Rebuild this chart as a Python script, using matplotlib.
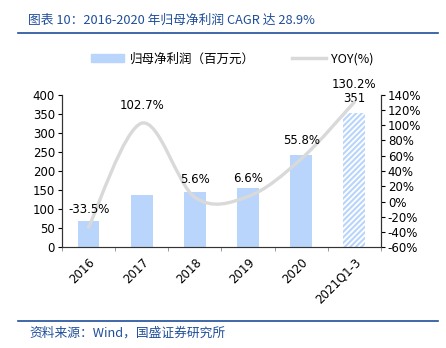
import numpy as np
import matplotlib.pyplot as plt
from matplotlib.path import Path
from matplotlib.patches import PathPatch, Patch
from matplotlib.lines import Line2D

plt.rcParams['font.family'] = ['DejaVu Sans', 'Noto Sans CJK SC']
plt.rcParams['hatch.linewidth'] = 1.3

# data
categories = ["2016", "2017", "2018", "2019", "2020", "2021Q1-3"]
profit = [68, 138, 146, 156, 243, 351]
yoy = [-33.5, 102.7, 5.6, 6.6, 55.8, 130.2]

BLUE = "#b9d5fb"
GRAY = "#d9d9d9"
TITLE_BLUE = "#1f4e9a"
CJK = ["Noto Sans CJK SC", "DejaVu Sans"]

fig = plt.figure(figsize=(4.46, 3.48), dpi=100)
ax = fig.add_axes([0.139, 0.289, 0.715, 0.439])
ax2 = ax.twinx()

x = np.arange(len(categories))
ax.bar(x[:-1], profit[:-1], width=0.41, color=BLUE, linewidth=0, zorder=2)
ax.bar(x[-1], profit[-1], width=0.41, color=BLUE, edgecolor="white",
       hatch="//////", linewidth=0, zorder=2)

# smooth YOY line (Bezier through the points, like Excel's smoothed line)
pts = np.column_stack([x, yoy]).astype(float)
ext = np.vstack([pts[0], pts, pts[-1]])
verts = [tuple(pts[0])]
codes = [Path.MOVETO]
for i in range(len(pts) - 1):
    p0, p1, p2, p3 = ext[i], ext[i + 1], ext[i + 2], ext[i + 3]
    c1 = p1 + (p2 - p0) / 6
    c2 = p2 - (p3 - p1) / 6
    verts += [tuple(c1), tuple(c2), tuple(p2)]
    codes += [Path.CURVE4] * 3
ax2.add_patch(PathPatch(Path(verts, codes), facecolor="none", edgecolor=GRAY,
                        linewidth=2.4, capstyle="round", zorder=3))

for xi, v in zip(x, yoy):
    ax2.annotate(f"{v}%", (xi, v), xytext=(0, 13), textcoords="offset points",
                 ha="center", va="center", fontsize=8.5)
ax.annotate(f"{profit[-1]}", (x[-1], profit[-1]), xytext=(0, 11),
            textcoords="offset points", ha="center", va="center", fontsize=8.5)

ax.set_xlim(-0.5, 5.5)
ax.set_ylim(0, 400)
ax.set_yticks(range(0, 401, 50))
ax2.set_ylim(-60, 140)
ax2.set_yticks(range(-60, 141, 20))
ax2.set_yticklabels([f"{t}%" for t in range(-60, 141, 20)])

ax.set_xticks(x)
ax.set_xticklabels(categories, rotation=45, ha="right", rotation_mode="anchor")
ax.set_xticks(np.arange(-0.5, 6, 1), minor=True)
ax.tick_params(axis="x", which="major", length=0, labelsize=8.5, pad=6)
ax.tick_params(axis="x", which="minor", length=3, color="#888888")
ax.tick_params(axis="y", length=3, labelsize=8.5, pad=2)
ax2.tick_params(axis="y", length=3, labelsize=8.5, pad=2)

for a in (ax, ax2):
    a.spines["top"].set_visible(False)
    for s in ("left", "right", "bottom"):
        a.spines[s].set_color("#333333")
ax.spines["bottom"].set_color("#888888")

# legend
handles = [Patch(color=BLUE), Line2D([], [], color=GRAY, linewidth=2.5)]
labels = ["归母净利润（百万元）", "YOY(%)"]
fig.legend(handles, labels, loc="center", bbox_to_anchor=(0.52, 1 - 59 / 348),
           ncol=2, frameon=False, handlelength=2.7,
           handleheight=0.6, columnspacing=3.0, handletextpad=0.4,
           prop={"family": CJK, "size": 9})

# title and footer
fig.text(0.063, 1 - 20 / 348, "图表 10：2016-2020 年归母净利润 CAGR 达 28.9%",
         color=TITLE_BLUE, fontsize=9.2, style="italic", va="center", family=CJK)
fig.add_artist(Line2D([0.04, 0.982], [1 - 33 / 348] * 2, color=TITLE_BLUE, linewidth=1.2))
fig.add_artist(Line2D([0.04, 0.982], [1 - 321 / 348] * 2, color=TITLE_BLUE, linewidth=1.2))
fig.text(0.067, 1 - 333 / 348, "资料来源：Wind，国盛证券研究所",
         color=TITLE_BLUE, fontsize=9.2, style="italic", va="center", family=CJK)

fig.savefig("out.png", dpi=100)
